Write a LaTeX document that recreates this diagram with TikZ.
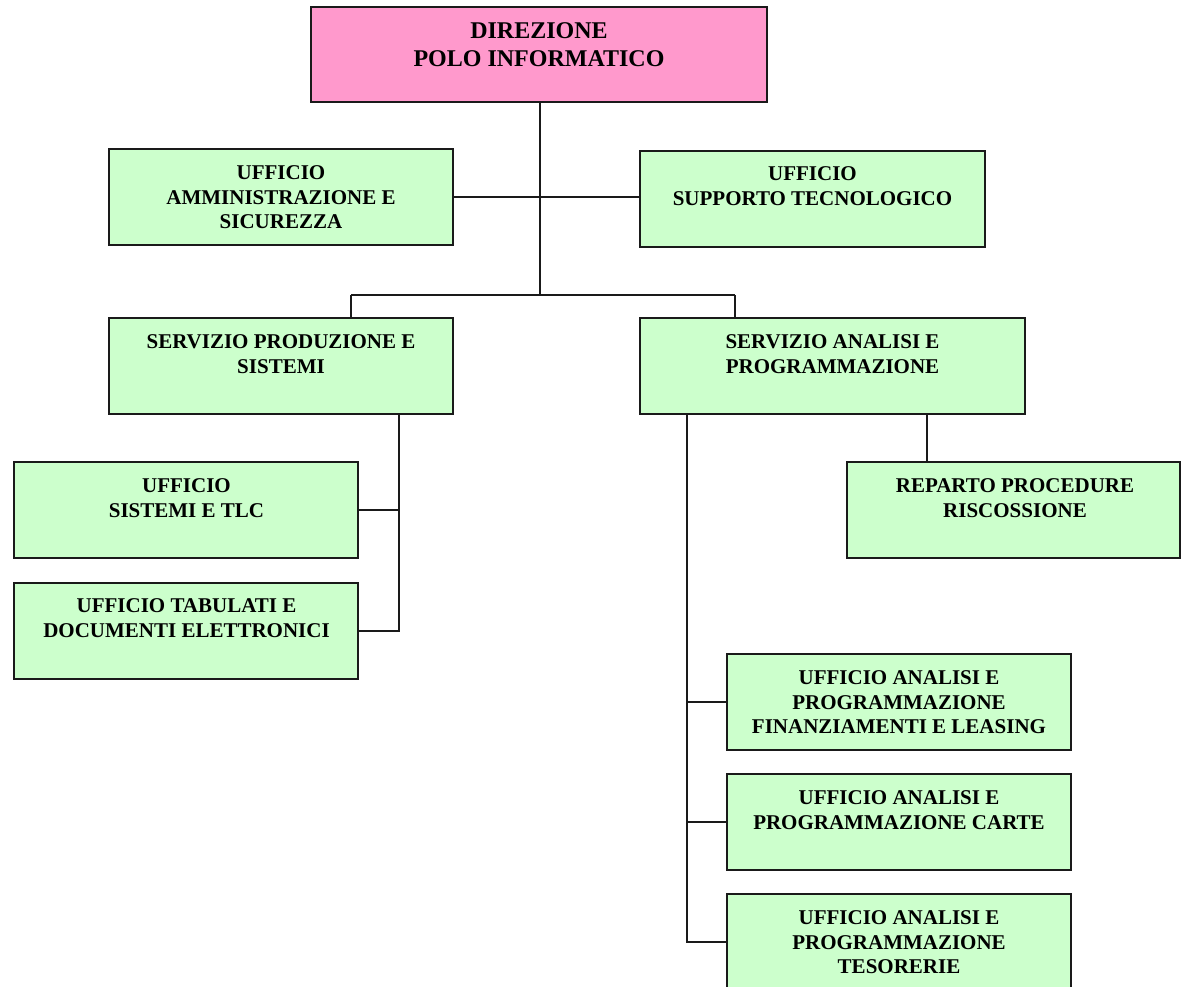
\documentclass[tikz,border=0pt]{standalone}
\usepackage{fontspec}
\setmainfont{Liberation Serif}
\definecolor{boxgreen}{HTML}{CCFFCC}
\definecolor{boxpink}{HTML}{FF99CC}
\definecolor{edge}{HTML}{1A1A1A}
\tikzset{
  gbox/.style={draw=edge, line width=1.8pt, fill=boxgreen, rectangle, inner sep=0pt, outer sep=0pt,
               minimum width=#1, minimum height=96pt, anchor=north west},
  gbox/.default=344pt,
  pbox/.style={draw=edge, line width=1.8pt, fill=boxpink, rectangle, inner sep=0pt, outer sep=0pt,
               minimum width=456pt, minimum height=95pt, anchor=north west},
  txt/.style={inner sep=0pt, outer sep=0pt, align=center, anchor=north, text=black,
              font=\fontsize{21}{24.5}\selectfont\bfseries},
  bigtxt/.style={txt, font=\fontsize{24}{28}\selectfont\bfseries},
  conn/.style={draw=edge, line width=1.6pt}
}
\begin{document}
\begin{tikzpicture}[x=1pt,y=-1pt]
\clip (0,0) rectangle (1181,986);
\fill[white] (0,0) rectangle (1181,986);

% boxes
\node[pbox] (dir) at (311,7) {};
\node[gbox] (amm) at (109,149) {};
\node[gbox=345pt] (sup) at (640,151) {};
\node[gbox] (prod) at (109,318) {};
\node[gbox=385pt] (ana) at (640,318) {};
\node[gbox] (sis) at (14,462) {};
\node[gbox] (tab) at (14,583) {};
\node[gbox=333pt] (rep) at (847,462) {};
\node[gbox] (fin) at (727,654) {};
\node[gbox] (car) at (727,774) {};
\node[gbox] (tes) at (727,894) {};

% texts
\node[bigtxt] (dirt) at (539,23) {DIREZIONE\\POLO INFORMATICO};
\node[txt] (ammt) at (281,166) {UFFICIO\\AMMINISTRAZIONE E\\SICUREZZA};
\node[txt] (supt) at (812.5,167) {UFFICIO\\SUPPORTO TECNOLOGICO};
\node[txt] (prodt) at (281,335) {SERVIZIO PRODUZIONE E\\SISTEMI};
\node[txt] (anat) at (832.5,335) {SERVIZIO ANALISI E\\PROGRAMMAZIONE};
\node[txt] (sist) at (186.5,479) {UFFICIO\\SISTEMI E TLC};
\node[txt] (tabt) at (186.5,599) {UFFICIO TABULATI E\\DOCUMENTI ELETTRONICI};
\node[txt] (rept) at (1015,479) {REPARTO PROCEDURE\\RISCOSSIONE};
\node[txt] (fint) at (899,671) {UFFICIO ANALISI E\\PROGRAMMAZIONE\\FINANZIAMENTI E LEASING};
\node[txt] (cart) at (899,791) {UFFICIO ANALISI E\\PROGRAMMAZIONE CARTE};
\node[txt] (test) at (899,911) {UFFICIO ANALISI E\\PROGRAMMAZIONE\\TESORERIE};

% connectors
\coordinate (j1) at (540,295);
\coordinate (pl) at (351,295);
\coordinate (pr) at (735,295);
\draw[conn] (dir.south -| j1) -- (j1);
\draw[conn] (amm.east) -- (amm.east -| sup.west);
\draw[conn] (pl) -- (pr);
\draw[conn] (pl) -- (pl |- prod.north);
\draw[conn] (pr) -- (pr |- ana.north);

\coordinate (px) at (399,414);
\draw[conn] (px) |- (tab.east);
\draw[conn] (sis.east) -- (sis.east -| px);

\coordinate (ar) at (927,414);
\draw[conn] (ar) -- (ar |- rep.north);
\coordinate (al) at (687,414);
\draw[conn] (al) |- (tes.west);
\draw[conn] (fin.west) -- (fin.west -| al);
\draw[conn] (car.west) -- (car.west -| al);
\end{tikzpicture}
\end{document}
